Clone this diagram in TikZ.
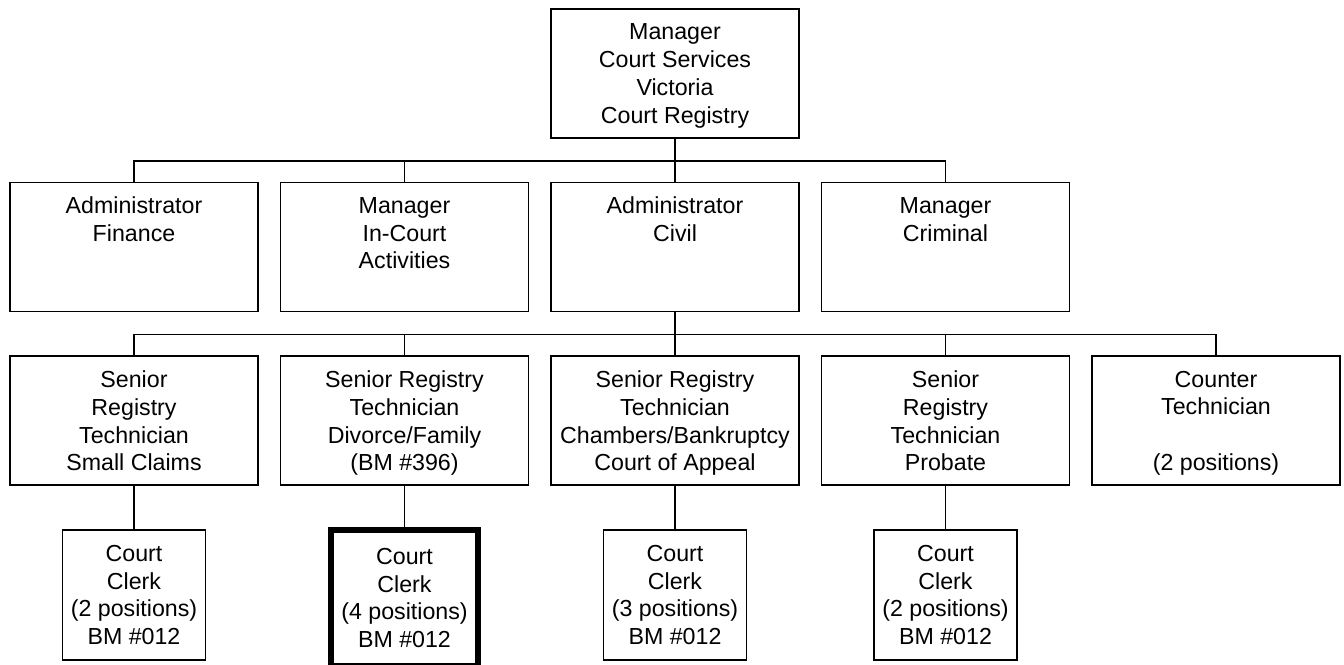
\documentclass[tikz,border=0pt]{standalone}
\usepackage{fontspec}
\setmainfont{Liberation Sans}
\usetikzlibrary{positioning}

\begin{document}
\begin{tikzpicture}[-,line width=0.8pt,x=0.5pt,y=-0.5pt,
                    node distance=22.3pt and 11.25pt,
                    font=\fontsize{11.6}{13.9}\selectfont]
  \tikzstyle{post}=[draw=black,text=black,align=center,inner sep=0pt,
                    outer sep=0pt,minimum width=124pt,minimum height=64.5pt,
                    text depth=0pt]
  \tikzstyle{clerk}=[post,minimum width=71.5pt,minimum height=65pt]
  \tikzstyle{bus}=[to path={-- ++(0,23) -| (\tikztotarget)}]

  \useasboundingbox (0,0) rectangle (1344,664);

  \node[post] (top) at (675,73.5)
  {Manager\\Court Services\\Victoria\\Court Registry};
  \node[post] (civ) [below=of top] {Administrator\\Civil\\\mbox{}\\\mbox{}};
  \node[post] (act) [left=of civ]
  {Manager\\In-Court\\Activities\\\mbox{}};
  \node[post] (fin) [left=of act] {Administrator\\Finance\\\mbox{}\\\mbox{}};
  \node[post] (crim) [right=of civ] {Manager\\Criminal\\\mbox{}\\\mbox{}};

  \node[post] (chm) [below=of civ]
  {Senior Registry\\Technician\\Chambers/Bankruptcy\\Court of Appeal};
  \node[post] (div) [left=of chm]
  {Senior Registry\\Technician\\Divorce/Family\\(BM \#396)};
  \node[post] (smc) [left=of div]
  {Senior\\Registry\\Technician\\Small Claims};
  \node[post] (prob) [right=of chm]
  {Senior\\Registry\\Technician\\Probate};
  \node[post] (cnt) [right=of prob]
  {Counter\\Technician\\\mbox{}\\(2 positions)};

  \node[clerk] (clk1) [below=of smc] {Court\\Clerk\\(2 positions)\\BM \#012};
  \node[clerk,line width=2.75pt,minimum width=73.5pt,minimum height=68pt]
  (clk2) [below=of div] {Court\\Clerk\\(4 positions)\\BM \#012};
  \node[clerk] (clk3) [below=of chm] {Court\\Clerk\\(3 positions)\\BM \#012};
  \node[clerk] (clk4) [below=of prob] {Court\\Clerk\\(2 positions)\\BM \#012};

  \path (top.south) edge[bus] (fin.north)
                    edge[bus] (act.north)
                    edge[bus] (civ.north)
                    edge[bus] (crim.north)
        (civ.south) edge[bus] (smc.north)
                    edge[bus] (div.north)
                    edge[bus] (chm.north)
                    edge[bus] (prob.north)
                    edge[bus] (cnt.north)
        (smc.south) edge (clk1.north)
        (div.south) edge (clk2.north)
        (chm.south) edge (clk3.north)
        (prob.south) edge (clk4.north);
\end{tikzpicture}
\end{document}
